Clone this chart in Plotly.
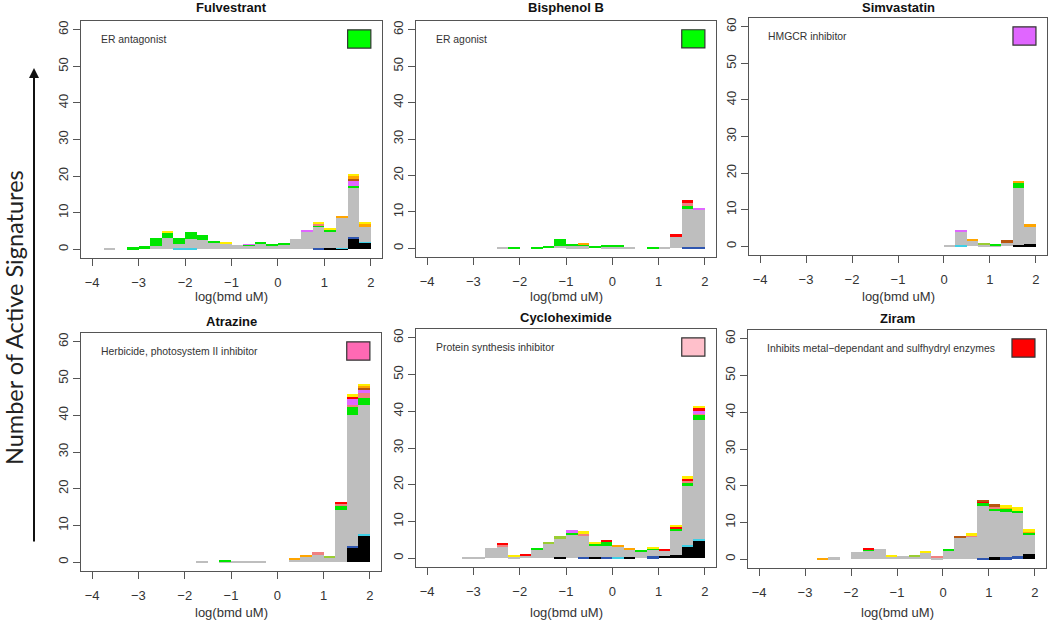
import numpy as np
import plotly.graph_objects as go

# histogram bins: 0.25 log-units from -4 to 2
BIN_EDGES = np.arange(-4.0, 2.0001, 0.25)
BIN_CENTERS = (BIN_EDGES[:-1] + BIN_EDGES[1:]) / 2

CHEMICALS = ["Fulvestrant", "Bisphenol B", "Simvastatin", "Atrazine", "Cycloheximide", "Ziram"]
MOA_TEXT = [
    "ER antagonist",
    "ER agonist",
    "HMGCR inhibitor",
    "Herbicide, photosystem II inhibitor",
    "Protein synthesis inhibitor",
    "Inhibits metal\u2212dependant and sulfhydryl enzymes",
]
MOA_COLORS = ["#00ff00", "#00ff00", "#e066ff", "#ff69b4", "#ffc0cb", "#ff0000"]

# stacking order, bottom -> top
LAYER_COLORS = {
    "black": "#000000",
    "blue": "#2f56b0",
    "cyan": "#3fcfe6",
    "gray": "#bebebe",
    "green": "#00e600",
    "yellowgreen": "#9acd32",
    "salmon": "#f08080",
    "violet": "#e066ff",
    "red": "#ff0000",
    "brown": "#b8560f",
    "orange": "#ffa500",
    "yellow": "#ffee00",
}

FULVESTRANT = {
    "black":  [0, 0, 0, 0, 0, 0,   0, 0, 0, 0, 0, 0,   0, 0, 0, 0, 0, 0,   0, 0, .3, .3, 3.0, 1.8],
    "blue":   [0, 0, 0, 0, 0, 0,   0, 0, 0, 0, 0, 0,   0, 0, 0, 0, 0, 0,   0, .3, 0, 0, .3, 0],
    "cyan":   [0, 0, 0, 0, 0, 0,   0, .2, .2, 0, 0, 0,   0, 0, 0, 0, 0, 0,   0, 0, 0, .1, 0, .2],
    "gray":   [0, .3, 0, 0, 0, 1.0,   3.2, 1.3, 2.7, 2.5, 1.7, 1.5,   1.1, 1.0, 1.5, 1.1, 1.2, 2.9,   4.6, 5.9, 4.5, 8.2, 13.4, 4.3],
    "green":  [0, 0, 0, .5, 1.0, 2.0,   1.3, 1.7, 1.8, 1.3, .6, 0,   0, .2, .5, .4, .3, 0,   0, .3, .6, 0, .7, 0],
    "salmon": [0, 0, 0, 0, 0, 0,   0, 0, 0, 0, 0, 0,   0, 0, 0, 0, 0, 0,   0, .4, 0, 0, 0, 0],
    "violet": [0, 0, 0, 0, 0, 0,   0, 0, 0, 0, 0, 0,   0, .2, 0, 0, 0, 0,   .6, 0, 0, 0, 1.3, 0],
    "brown":  [0, 0, 0, 0, 0, 0,   0, 0, 0, 0, 0, 0,   0, 0, 0, 0, 0, 0,   0, 0, 0, 0, .4, 0],
    "orange": [0, 0, 0, 0, 0, 0,   0, 0, 0, 0, 0, 0,   0, 0, 0, 0, 0, 0,   0, 0, 0, .6, 1.0, .5],
    "yellow": [0, 0, 0, 0, 0, 0,   .3, 0, 0, 0, 0, .5,   0, 0, 0, 0, 0, 0,   0, .5, .4, 0, .4, .6],
}

BISPHENOL_B = {
    "blue":   [0, 0, 0, 0, 0, 0,   0, 0, 0, 0, 0, 0,   0, 0, 0, 0, 0, 0,   0, 0, 0, 0, .3, .4],
    "gray":   [0, 0, 0, 0, 0, 0,   .3, 0, 0, 0, 0, .6,   .5, .5, 0, .4, .4, .4,   0, 0, .4, 3.2, 10.6, 10.1],
    "green":  [0, 0, 0, 0, 0, 0,   0, .3, 0, .3, .6, 2.0,   .8, .6, .6, .4, .3, 0,   0, .3, 0, 0, .9, 0],
    "salmon": [0, 0, 0, 0, 0, 0,   0, 0, 0, 0, 0, 0,   0, 0, 0, 0, 0, 0,   0, 0, 0, 0, .5, 0],
    "violet": [0, 0, 0, 0, 0, 0,   0, 0, 0, 0, 0, 0,   0, 0, 0, 0, 0, 0,   0, 0, 0, 0, 0, .6],
    "red":    [0, 0, 0, 0, 0, 0,   0, 0, 0, 0, 0, 0,   0, 0, 0, 0, 0, 0,   0, 0, 0, .6, .9, 0],
    "orange": [0, 0, 0, 0, 0, 0,   0, 0, 0, 0, 0, 0,   0, .2, 0, 0, 0, 0,   0, 0, 0, 0, 0, 0],
}

SIMVASTATIN = {
    "black":       [0, 0, 0, 0, 0, 0,   0, 0, 0, 0, 0, 0,   0, 0, 0, 0, 0, 0,   0, 0, 0, 0, .3, .5],
    "cyan":        [0, 0, 0, 0, 0, 0,   0, 0, 0, 0, 0, 0,   0, 0, 0, 0, 0, .2,   0, 0, 0, 0, 0, 0],
    "gray":        [0, 0, 0, 0, 0, 0,   0, 0, 0, 0, 0, 0,   0, 0, 0, 0, .3, 3.6,   1.5, .5, .2, 1.0, 15.5, 5.0],
    "green":       [0, 0, 0, 0, 0, 0,   0, 0, 0, 0, 0, 0,   0, 0, 0, 0, 0, 0,   0, 0, .5, 0, 1.6, 0],
    "yellowgreen": [0, 0, 0, 0, 0, 0,   0, 0, 0, 0, 0, 0,   0, 0, 0, 0, 0, 0,   0, .5, 0, 0, 0, 0],
    "violet":      [0, 0, 0, 0, 0, 0,   0, 0, 0, 0, 0, 0,   0, 0, 0, 0, 0, .6,   0, 0, 0, 0, 0, 0],
    "brown":       [0, 0, 0, 0, 0, 0,   0, 0, 0, 0, 0, 0,   0, 0, 0, 0, 0, 0,   0, 0, 0, .6, 0, 0],
    "orange":      [0, 0, 0, 0, 0, 0,   0, 0, 0, 0, 0, 0,   0, 0, 0, 0, 0, 0,   .5, 0, 0, 0, .5, .5],
}

ATRAZINE = {
    "black":       [0, 0, 0, 0, 0, 0,   0, 0, 0, 0, 0, 0,   0, 0, 0, 0, 0, 0,   0, 0, 0, 0, 4.0, 7.3],
    "blue":        [0, 0, 0, 0, 0, 0,   0, 0, 0, 0, 0, 0,   0, 0, 0, 0, 0, 0,   0, 0, 0, 0, .3, 0],
    "cyan":        [0, 0, 0, 0, 0, 0,   0, 0, 0, 0, 0, 0,   0, 0, 0, 0, 0, 0,   0, 0, 0, 0, 0, .5],
    "gray":        [0, 0, 0, 0, 0, 0,   0, 0, 0, .3, 0, .1,   .3, .2, .2, 0, 0, .7,   1.4, 2.2, 1.2, 14.3, 35.7, 35.0],
    "green":       [0, 0, 0, 0, 0, 0,   0, 0, 0, 0, 0, .6,   0, 0, 0, 0, 0, 0,   0, 0, 0, 1.0, 2.5, 1.8],
    "yellowgreen": [0, 0, 0, 0, 0, 0,   0, 0, 0, 0, 0, 0,   0, 0, 0, 0, 0, 0,   0, 0, .5, 0, 0, 0],
    "salmon":      [0, 0, 0, 0, 0, 0,   0, 0, 0, 0, 0, 0,   0, 0, 0, 0, 0, 0,   0, .5, 0, .5, .3, 1.4],
    "violet":      [0, 0, 0, 0, 0, 0,   0, 0, 0, 0, 0, 0,   0, 0, 0, 0, 0, 0,   0, 0, 0, 0, 1.5, .9],
    "red":         [0, 0, 0, 0, 0, 0,   0, 0, 0, 0, 0, 0,   0, 0, 0, 0, 0, 0,   0, 0, 0, .6, .7, 0],
    "brown":       [0, 0, 0, 0, 0, 0,   0, 0, 0, 0, 0, 0,   0, 0, 0, 0, 0, 0,   0, 0, 0, 0, 0, .7],
    "orange":      [0, 0, 0, 0, 0, 0,   0, 0, 0, 0, 0, 0,   0, 0, 0, 0, 0, .5,   .6, 0, 0, 0, 0, .4],
    "yellow":      [0, 0, 0, 0, 0, 0,   0, 0, 0, 0, 0, 0,   0, 0, 0, 0, 0, 0,   0, 0, 0, 0, .7, .5],
}

CYCLOHEXIMIDE = {
    "black":       [0, 0, 0, 0, 0, 0,   0, 0, 0, 0, 0, .3,   0, 0, .3, 0, 0, .3,   0, 0, .6, .8, 3.3, 4.8],
    "blue":        [0, 0, 0, 0, 0, 0,   0, 0, 0, 0, 0, 0,   0, .3, 0, .3, 0, 0,   0, .5, 0, 0, 0, 0],
    "cyan":        [0, 0, 0, 0, 0, 0,   0, 0, 0, 0, 0, 0,   0, 0, 0, 0, .3, 0,   0, 0, 0, 0, .3, .4],
    "gray":        [0, 0, 0, .2, .2, 2.8,   3.3, .4, .7, 2.3, 4.1, 4.9,   6.2, 5.8, 2.9, 3.1, 2.8, 2.0,   1.8, 1.8, 1.4, 6.7, 16.1, 32.4],
    "green":       [0, 0, 0, 0, 0, 0,   0, 0, 0, .5, 0, 0,   .7, 0, .7, .9, 0, 0,   .2, .3, 0, .6, .9, 1.4],
    "yellowgreen": [0, 0, 0, 0, 0, 0,   0, 0, 0, 0, .2, .9,   0, 0, 0, 0, 0, 0,   0, 0, 0, 0, 0, 0],
    "salmon":      [0, 0, 0, 0, 0, 0,   .2, 0, 0, 0, 0, 0,   0, .6, 0, 0, 0, 0,   0, 0, 0, 0, .3, .3],
    "violet":      [0, 0, 0, 0, 0, 0,   0, 0, 0, 0, 0, 0,   .7, 0, 0, 0, 0, 0,   0, 0, 0, 0, 0, .9],
    "red":         [0, 0, 0, 0, 0, 0,   .6, 0, .5, 0, 0, 0,   0, 0, 0, .7, 0, 0,   0, 0, .5, .5, .7, .8],
    "orange":      [0, 0, 0, 0, 0, 0,   0, 0, 0, 0, 0, 0,   0, 0, 0, 0, .6, .3,   0, 0, 0, 0, 0, 0],
    "yellow":      [0, 0, 0, 0, 0, 0,   0, .3, 0, 0, 0, 0,   0, .6, .3, 0, 0, 0,   0, .2, 0, .4, .8, .5],
}

ZIRAM = {
    "black":       [0, 0, 0, 0, 0, 0,   0, 0, 0, 0, 0, 0,   0, 0, 0, 0, 0, 0,   0, 0, .5, 0, 0, 1.4],
    "blue":        [0, 0, 0, 0, 0, 0,   0, 0, 0, 0, 0, 0,   0, 0, 0, 0, 0, 0,   0, .4, 0, .5, 1.0, 0],
    "gray":        [0, 0, 0, 0, 0, 0,   .5, 0, 2.0, 2.3, 2.8, .6,   1.0, .6, 1.6, .5, 2.4, 5.8,   6.1, 14.1, 12.7, 12.4, 11.5, 5.2],
    "green":       [0, 0, 0, 0, 0, 0,   0, 0, 0, .2, 0, 0,   0, 0, 0, 0, .5, 0,   0, .8, .6, .7, .7, .6],
    "yellowgreen": [0, 0, 0, 0, 0, 0,   0, 0, 0, 0, 0, 0,   0, .4, 0, 0, 0, 0,   0, 0, 0, 0, 0, 0],
    "salmon":      [0, 0, 0, 0, 0, 0,   0, 0, 0, 0, 0, 0,   0, 0, 0, .4, 0, 0,   .4, 0, .4, 0, 0, 0],
    "red":         [0, 0, 0, 0, 0, 0,   0, 0, 0, .4, 0, 0,   0, 0, 0, 0, 0, 0,   0, .5, 0, 0, 0, 0],
    "brown":       [0, 0, 0, 0, 0, 0,   0, 0, 0, 0, 0, 0,   0, 0, 0, 0, 0, .5,   0, .4, .7, 0, 0, 0],
    "orange":      [0, 0, 0, 0, 0, .4,   0, 0, 0, 0, 0, 0,   0, 0, 0, 0, 0, 0,   0, 0, 0, .6, 0, .4],
    "yellow":      [0, 0, 0, 0, 0, 0,   0, 0, 0, 0, 0, .5,   0, 0, .6, 0, 0, 0,   .5, 0, 0, .5, .9, .5],
}

PANEL_DATA = [FULVESTRANT, BISPHENOL_B, SIMVASTATIN, ATRAZINE, CYCLOHEXIMIDE, ZIRAM]

X_TICKS = [-4, -3, -2, -1, 0, 1, 2]
Y_TICKS = [0, 10, 20, 30, 40, 50, 60]

W, H = 1050, 631
# plot boxes in pixels: (left, right, top, bottom)
BOXES = [
    (81, 382, 21, 258), (416, 716, 21, 257), (749, 1047, 18, 255),
    (81, 381, 333, 571), (416, 716, 329, 567), (748, 1046, 330, 568),
]
TITLE_Y = [8, 8, 7, 321, 317, 318]
XLABEL_Y = [297, 297, 297, 612, 612, 612]

FONT = "Liberation Sans, Arial, sans-serif"

fig = go.Figure()
annotations = []
shapes = []

for k, data in enumerate(PANEL_DATA):
    sfx = "" if k == 0 else str(k + 1)
    for layer, color in LAYER_COLORS.items():
        if layer not in data:
            continue
        vals = data[layer]
        assert len(vals) == len(BIN_CENTERS)
        fig.add_trace(go.Bar(
            x=BIN_CENTERS, y=vals, width=0.25,
            marker=dict(color=color, line=dict(width=0)),
            xaxis="x" + sfx, yaxis="y" + sfx,
            showlegend=False, name=layer,
        ))

    l, r, t, b = BOXES[k]
    axis_common = dict(
        showline=True, linecolor="#555", linewidth=1.3, mirror=True,
        ticks="outside", ticklen=7, tickcolor="#555", tickwidth=1.2,
        showgrid=False, zeroline=False,
        tickfont=dict(family=FONT, size=13, color="#333"),
        fixedrange=True,
    )
    fig.update_layout({
        "xaxis" + sfx: dict(
            domain=[l / W, r / W], range=[-4.24, 2.24], tickvals=X_TICKS,
            anchor="y" + sfx, ticklabelstandoff=5, **axis_common,
        ),
        "yaxis" + sfx: dict(
            domain=[1 - b / H, 1 - t / H], range=[-2.4, 62.4], tickvals=Y_TICKS,
            tickangle=-90, anchor="x" + sfx, **axis_common,
        ),
    })

    cx = (l + r) / 2 / W
    annotations.append(dict(
        text="<b>" + CHEMICALS[k] + "</b>", x=cx, y=1 - TITLE_Y[k] / H,
        xref="paper", yref="paper", xanchor="center", yanchor="middle",
        showarrow=False, font=dict(family=FONT, size=13, color="#111"),
    ))
    annotations.append(dict(
        text="log(bmd uM)", x=cx, y=1 - XLABEL_Y[k] / H,
        xref="paper", yref="paper", xanchor="center", yanchor="middle",
        showarrow=False, font=dict(family=FONT, size=13, color="#333"),
    ))
    annotations.append(dict(
        text=MOA_TEXT[k], x=-3.86, y=57.4, xref="x" + sfx, yref="y" + sfx,
        xanchor="left", yanchor="middle", showarrow=False,
        font=dict(family=FONT, size=10.4, color="#333"),
    ))
    shapes.append(dict(
        type="rect", x0=1.5, x1=2.0, y0=55, y1=60, xref="x" + sfx, yref="y" + sfx,
        fillcolor=MOA_COLORS[k], line=dict(color="#333", width=1.2),
    ))

# shared y label with arrow
annotations.append(dict(
    text="Number of Active Signatures", x=14 / W, y=1 - 318 / H,
    xref="paper", yref="paper", xanchor="center", yanchor="middle",
    textangle=-90, showarrow=False,
    font=dict(family="Lato, Open Sans, sans-serif", size=23.5, color="#222"),
))
annotations.append(dict(
    text="", x=34 / W, y=1 - 68 / H, xref="paper", yref="paper",
    showarrow=True, ax=0, ay=475, arrowhead=2, arrowsize=1, arrowwidth=2,
    arrowcolor="#111",
))

fig.update_layout(
    width=W, height=H,
    margin=dict(l=0, r=0, t=0, b=0),
    barmode="stack", bargap=0,
    plot_bgcolor="white", paper_bgcolor="white",
    annotations=annotations, shapes=shapes,
    showlegend=False,
)

fig.write_html(
    "out.html",
    config={"displayModeBar": False},
    post_script="document.body.style.margin='0';",
)
